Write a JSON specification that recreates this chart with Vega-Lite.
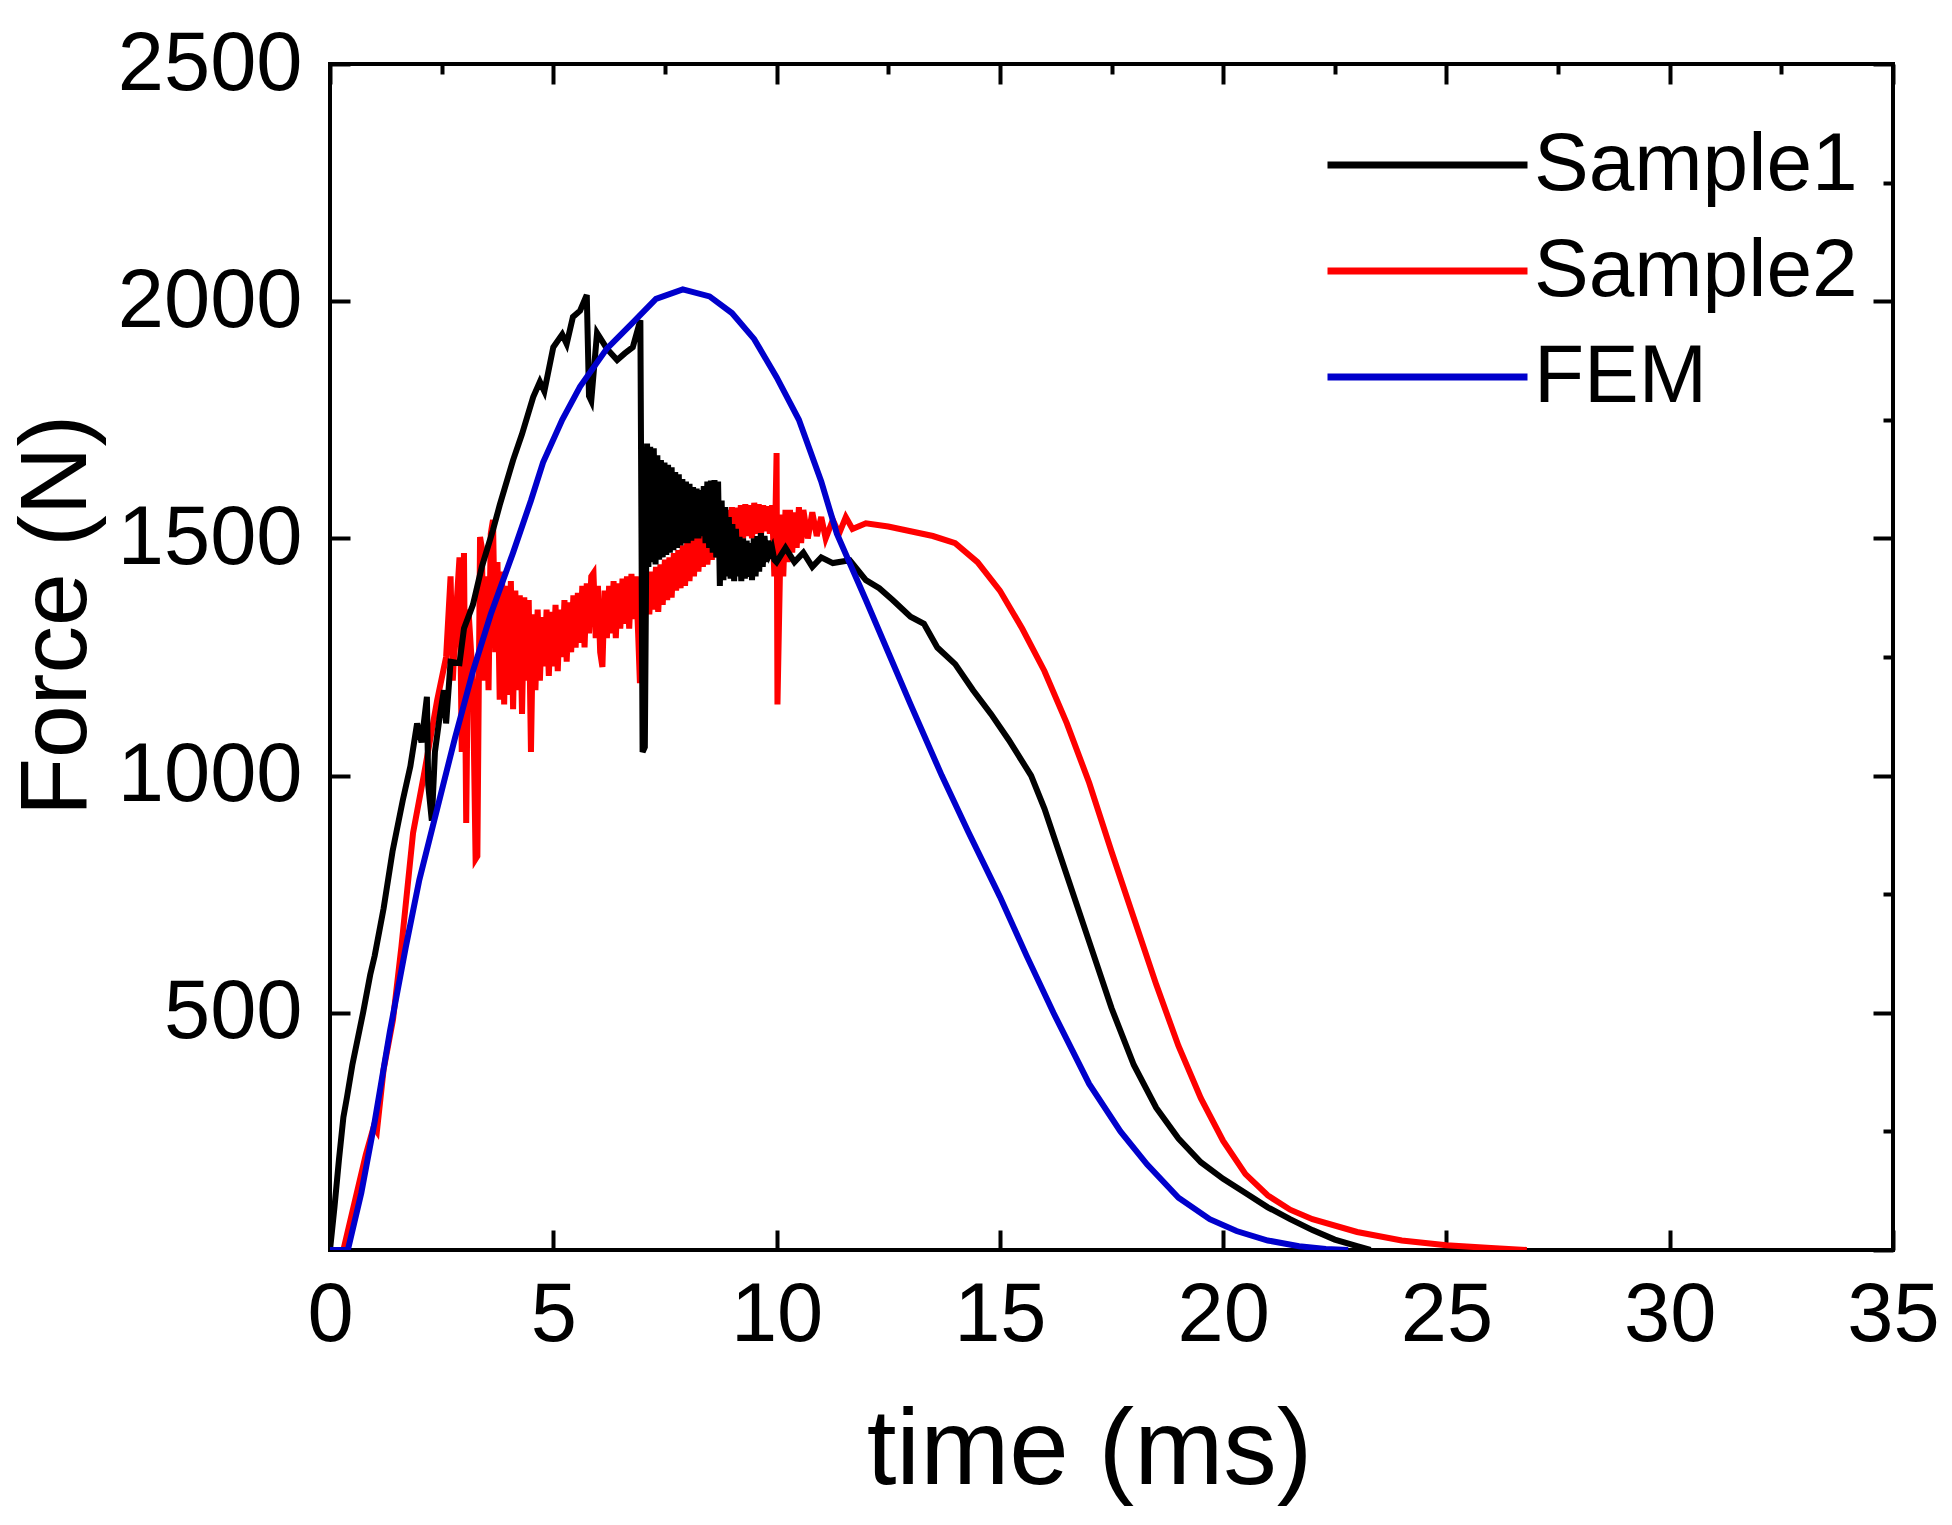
{
  "$schema": "https://vega.github.io/schema/vega-lite/v6.json",
  "width": 1563,
  "height": 1186,
  "autosize": {"type": "none"},
  "padding": {"left": 330, "top": 64, "right": 59, "bottom": 275},
  "background": "white",
  "config": {
    "view": {"stroke": "black", "strokeWidth": 4},
    "font": "Liberation Sans"
  },
  "datasets": {
    "curves": [
      {"t":0,"F":0,"s":"Sample2"},{"t":0.3,"F":0,"s":"Sample2"},{"t":0.5,"F":80,"s":"Sample2"},{"t":0.8,"F":200,"s":"Sample2"},{"t":0.98,"F":260,"s":"Sample2"},{"t":1.05,"F":250,"s":"Sample2"},{"t":1.2,"F":380,"s":"Sample2"},{"t":1.41,"F":485,"s":"Sample2"},{"t":1.6,"F":640,"s":"Sample2"},{"t":1.86,"F":879,"s":"Sample2"},{"t":2.1,"F":1000,"s":"Sample2"},{"t":2.4,"F":1159,"s":"Sample2"},{"t":2.6,"F":1250,"s":"Sample2"},{"t":2.7,"F":1420,"s":"Sample2"},{"t":2.75,"F":1200,"s":"Sample2"},{"t":2.84,"F":1370,"s":"Sample2"},{"t":2.9,"F":1460,"s":"Sample2"},{"t":2.95,"F":1050,"s":"Sample2"},{"t":3.0,"F":1469,"s":"Sample2"},{"t":3.05,"F":900,"s":"Sample2"},{"t":3.1,"F":1350,"s":"Sample2"},{"t":3.2,"F":1200,"s":"Sample2"},{"t":3.26,"F":824,"s":"Sample2"},{"t":3.3,"F":830,"s":"Sample2"},{"t":3.36,"F":1503,"s":"Sample2"},
      {"t":3.40,"F":1480,"s":"Sample2"},{"t":3.45,"F":1200,"s":"Sample2"},{"t":3.50,"F":1420,"s":"Sample2"},{"t":3.55,"F":1180,"s":"Sample2"},{"t":3.60,"F":1510,"s":"Sample2"},{"t":3.65,"F":1539,"s":"Sample2"},{"t":3.70,"F":1260,"s":"Sample2"},{"t":3.75,"F":1450,"s":"Sample2"},{"t":3.80,"F":1160,"s":"Sample2"},{"t":3.85,"F":1430,"s":"Sample2"},{"t":3.90,"F":1150,"s":"Sample2"},{"t":3.95,"F":1400,"s":"Sample2"},{"t":4.00,"F":1170,"s":"Sample2"},{"t":4.05,"F":1410,"s":"Sample2"},{"t":4.10,"F":1140,"s":"Sample2"},{"t":4.15,"F":1390,"s":"Sample2"},{"t":4.20,"F":1180,"s":"Sample2"},{"t":4.25,"F":1380,"s":"Sample2"},{"t":4.30,"F":1130,"s":"Sample2"},{"t":4.35,"F":1376,"s":"Sample2"},{"t":4.40,"F":1200,"s":"Sample2"},{"t":4.45,"F":1370,"s":"Sample2"},{"t":4.50,"F":1050,"s":"Sample2"},{"t":4.55,"F":1340,"s":"Sample2"},{"t":4.60,"F":1180,"s":"Sample2"},{"t":4.65,"F":1350,"s":"Sample2"},{"t":4.70,"F":1200,"s":"Sample2"},{"t":4.75,"F":1334,"s":"Sample2"},{"t":4.80,"F":1230,"s":"Sample2"},{"t":4.85,"F":1350,"s":"Sample2"},{"t":4.90,"F":1210,"s":"Sample2"},{"t":4.95,"F":1345,"s":"Sample2"},{"t":5.00,"F":1230,"s":"Sample2"},{"t":5.05,"F":1360,"s":"Sample2"},{"t":5.10,"F":1220,"s":"Sample2"},{"t":5.15,"F":1350,"s":"Sample2"},{"t":5.20,"F":1250,"s":"Sample2"},{"t":5.25,"F":1370,"s":"Sample2"},{"t":5.30,"F":1240,"s":"Sample2"},{"t":5.35,"F":1365,"s":"Sample2"},{"t":5.40,"F":1260,"s":"Sample2"},{"t":5.45,"F":1380,"s":"Sample2"},{"t":5.50,"F":1270,"s":"Sample2"},{"t":5.55,"F":1385,"s":"Sample2"},{"t":5.60,"F":1280,"s":"Sample2"},{"t":5.65,"F":1400,"s":"Sample2"},{"t":5.70,"F":1270,"s":"Sample2"},{"t":5.75,"F":1405,"s":"Sample2"},{"t":5.80,"F":1300,"s":"Sample2"},{"t":5.85,"F":1420,"s":"Sample2"},{"t":5.90,"F":1427,"s":"Sample2"},{"t":5.95,"F":1290,"s":"Sample2"},{"t":6.00,"F":1400,"s":"Sample2"},{"t":6.05,"F":1260,"s":"Sample2"},{"t":6.10,"F":1229,"s":"Sample2"},{"t":6.15,"F":1390,"s":"Sample2"},{"t":6.20,"F":1290,"s":"Sample2"},{"t":6.25,"F":1400,"s":"Sample2"},{"t":6.30,"F":1300,"s":"Sample2"},{"t":6.35,"F":1410,"s":"Sample2"},{"t":6.40,"F":1290,"s":"Sample2"},{"t":6.45,"F":1405,"s":"Sample2"},{"t":6.50,"F":1310,"s":"Sample2"},{"t":6.55,"F":1415,"s":"Sample2"},{"t":6.60,"F":1320,"s":"Sample2"},{"t":6.65,"F":1420,"s":"Sample2"},{"t":6.70,"F":1310,"s":"Sample2"},{"t":6.75,"F":1425,"s":"Sample2"},{"t":6.80,"F":1330,"s":"Sample2"},{"t":6.85,"F":1420,"s":"Sample2"},{"t":6.90,"F":1300,"s":"Sample2"},{"t":6.94,"F":1195,"s":"Sample2"},{"t":6.98,"F":1410,"s":"Sample2"},{"t":7.05,"F":1330,"s":"Sample2"},{"t":7.10,"F":1425,"s":"Sample2"},{"t":7.15,"F":1340,"s":"Sample2"},{"t":7.20,"F":1430,"s":"Sample2"},{"t":7.25,"F":1350,"s":"Sample2"},{"t":7.30,"F":1440,"s":"Sample2"},{"t":7.35,"F":1345,"s":"Sample2"},{"t":7.40,"F":1445,"s":"Sample2"},{"t":7.45,"F":1360,"s":"Sample2"},{"t":7.50,"F":1455,"s":"Sample2"},{"t":7.55,"F":1370,"s":"Sample2"},{"t":7.60,"F":1460,"s":"Sample2"},{"t":7.65,"F":1375,"s":"Sample2"},{"t":7.70,"F":1469,"s":"Sample2"},{"t":7.75,"F":1390,"s":"Sample2"},{"t":7.80,"F":1475,"s":"Sample2"},{"t":7.85,"F":1395,"s":"Sample2"},{"t":7.90,"F":1485,"s":"Sample2"},{"t":7.95,"F":1400,"s":"Sample2"},{"t":8.00,"F":1495,"s":"Sample2"},{"t":8.05,"F":1410,"s":"Sample2"},{"t":8.10,"F":1500,"s":"Sample2"},{"t":8.15,"F":1420,"s":"Sample2"},{"t":8.20,"F":1510,"s":"Sample2"},{"t":8.25,"F":1430,"s":"Sample2"},{"t":8.30,"F":1524,"s":"Sample2"},{"t":8.35,"F":1440,"s":"Sample2"},{"t":8.40,"F":1525,"s":"Sample2"},{"t":8.45,"F":1445,"s":"Sample2"},{"t":8.50,"F":1530,"s":"Sample2"},{"t":8.55,"F":1455,"s":"Sample2"},{"t":8.60,"F":1540,"s":"Sample2"},{"t":8.65,"F":1460,"s":"Sample2"},{"t":8.70,"F":1545,"s":"Sample2"},{"t":8.75,"F":1470,"s":"Sample2"},{"t":8.80,"F":1550,"s":"Sample2"},{"t":8.85,"F":1475,"s":"Sample2"},{"t":8.90,"F":1560,"s":"Sample2"},{"t":8.95,"F":1480,"s":"Sample2"},{"t":9.00,"F":1566,"s":"Sample2"},{"t":9.05,"F":1490,"s":"Sample2"},{"t":9.10,"F":1565,"s":"Sample2"},{"t":9.15,"F":1495,"s":"Sample2"},{"t":9.20,"F":1570,"s":"Sample2"},{"t":9.25,"F":1500,"s":"Sample2"},{"t":9.30,"F":1572,"s":"Sample2"},{"t":9.35,"F":1505,"s":"Sample2"},{"t":9.40,"F":1570,"s":"Sample2"},{"t":9.45,"F":1500,"s":"Sample2"},{"t":9.50,"F":1575,"s":"Sample2"},{"t":9.55,"F":1510,"s":"Sample2"},{"t":9.60,"F":1572,"s":"Sample2"},{"t":9.65,"F":1505,"s":"Sample2"},{"t":9.70,"F":1570,"s":"Sample2"},{"t":9.75,"F":1515,"s":"Sample2"},{"t":9.80,"F":1568,"s":"Sample2"},{"t":9.85,"F":1510,"s":"Sample2"},{"t":9.90,"F":1570,"s":"Sample2"},{"t":9.95,"F":1420,"s":"Sample2"},{"t":10.0,"F":1680,"s":"Sample2"},{"t":10.02,"F":1150,"s":"Sample2"},{"t":10.05,"F":1300,"s":"Sample2"},{"t":10.1,"F":1550,"s":"Sample2"},{"t":10.15,"F":1420,"s":"Sample2"},{"t":10.2,"F":1560,"s":"Sample2"},{"t":10.25,"F":1450,"s":"Sample2"},{"t":10.3,"F":1560,"s":"Sample2"},{"t":10.35,"F":1470,"s":"Sample2"},{"t":10.4,"F":1555,"s":"Sample2"},{"t":10.45,"F":1480,"s":"Sample2"},{"t":10.5,"F":1566,"s":"Sample2"},{"t":10.55,"F":1490,"s":"Sample2"},{"t":10.6,"F":1560,"s":"Sample2"},{"t":10.7,"F":1500,"s":"Sample2"},{"t":10.8,"F":1555,"s":"Sample2"},{"t":10.9,"F":1505,"s":"Sample2"},{"t":11.0,"F":1545,"s":"Sample2"},{"t":11.1,"F":1500,"s":"Sample2"},{"t":11.26,"F":1539,"s":"Sample2"},{"t":11.4,"F":1510,"s":"Sample2"},{"t":11.55,"F":1545,"s":"Sample2"},{"t":11.7,"F":1520,"s":"Sample2"},{"t":12.0,"F":1532,"s":"Sample2"},{"t":12.5,"F":1525,"s":"Sample2"},{"t":13.0,"F":1515,"s":"Sample2"},{"t":13.5,"F":1505,"s":"Sample2"},{"t":14.0,"F":1490,"s":"Sample2"},{"t":14.5,"F":1450,"s":"Sample2"},{"t":15.0,"F":1390,"s":"Sample2"},{"t":15.5,"F":1310,"s":"Sample2"},{"t":16.0,"F":1220,"s":"Sample2"},{"t":16.5,"F":1110,"s":"Sample2"},{"t":17.0,"F":985,"s":"Sample2"},{"t":17.5,"F":840,"s":"Sample2"},{"t":18.0,"F":700,"s":"Sample2"},{"t":18.5,"F":560,"s":"Sample2"},{"t":19.0,"F":430,"s":"Sample2"},{"t":19.5,"F":320,"s":"Sample2"},{"t":20.0,"F":230,"s":"Sample2"},{"t":20.5,"F":160,"s":"Sample2"},{"t":21.0,"F":115,"s":"Sample2"},{"t":21.5,"F":85,"s":"Sample2"},{"t":22.0,"F":65,"s":"Sample2"},{"t":23.0,"F":38,"s":"Sample2"},{"t":24.0,"F":20,"s":"Sample2"},{"t":25.0,"F":10,"s":"Sample2"},{"t":26.0,"F":4,"s":"Sample2"},{"t":26.8,"F":0,"s":"Sample2"},

      {"t":0,"F":0,"s":"Sample1"},{"t":0.1,"F":90,"s":"Sample1"},{"t":0.2,"F":190,"s":"Sample1"},{"t":0.3,"F":280,"s":"Sample1"},{"t":0.38,"F":322,"s":"Sample1"},{"t":0.5,"F":390,"s":"Sample1"},{"t":0.74,"F":500,"s":"Sample1"},{"t":0.9,"F":580,"s":"Sample1"},{"t":1.0,"F":620,"s":"Sample1"},{"t":1.2,"F":720,"s":"Sample1"},{"t":1.4,"F":840,"s":"Sample1"},{"t":1.63,"F":948,"s":"Sample1"},{"t":1.8,"F":1020,"s":"Sample1"},{"t":1.95,"F":1110,"s":"Sample1"},{"t":2.05,"F":1070,"s":"Sample1"},{"t":2.17,"F":1166,"s":"Sample1"},{"t":2.2,"F":980,"s":"Sample1"},{"t":2.28,"F":905,"s":"Sample1"},{"t":2.35,"F":1050,"s":"Sample1"},{"t":2.45,"F":1120,"s":"Sample1"},{"t":2.55,"F":1180,"s":"Sample1"},{"t":2.6,"F":1110,"s":"Sample1"},{"t":2.7,"F":1240,"s":"Sample1"},{"t":2.9,"F":1237,"s":"Sample1"},{"t":3.0,"F":1310,"s":"Sample1"},{"t":3.2,"F":1360,"s":"Sample1"},{"t":3.4,"F":1440,"s":"Sample1"},{"t":3.65,"F":1518,"s":"Sample1"},{"t":3.8,"F":1570,"s":"Sample1"},{"t":4.1,"F":1665,"s":"Sample1"},{"t":4.3,"F":1720,"s":"Sample1"},{"t":4.55,"F":1798,"s":"Sample1"},{"t":4.7,"F":1830,"s":"Sample1"},{"t":4.8,"F":1810,"s":"Sample1"},{"t":5.0,"F":1903,"s":"Sample1"},{"t":5.2,"F":1930,"s":"Sample1"},{"t":5.3,"F":1910,"s":"Sample1"},{"t":5.44,"F":1967,"s":"Sample1"},{"t":5.6,"F":1980,"s":"Sample1"},{"t":5.75,"F":2013,"s":"Sample1"},{"t":5.8,"F":1800,"s":"Sample1"},{"t":5.85,"F":1790,"s":"Sample1"},{"t":5.98,"F":1933,"s":"Sample1"},{"t":6.2,"F":1900,"s":"Sample1"},{"t":6.43,"F":1876,"s":"Sample1"},{"t":6.6,"F":1890,"s":"Sample1"},{"t":6.78,"F":1903,"s":"Sample1"},{"t":6.95,"F":1960,"s":"Sample1"},{"t":7.0,"F":1050,"s":"Sample1"},{"t":7.05,"F":1060,"s":"Sample1"},
      {"t":7.10,"F":1700,"s":"Sample1"},{"t":7.13,"F":1440,"s":"Sample1"},{"t":7.17,"F":1693,"s":"Sample1"},{"t":7.21,"F":1450,"s":"Sample1"},{"t":7.25,"F":1690,"s":"Sample1"},{"t":7.29,"F":1445,"s":"Sample1"},{"t":7.33,"F":1675,"s":"Sample1"},{"t":7.37,"F":1455,"s":"Sample1"},{"t":7.41,"F":1665,"s":"Sample1"},{"t":7.45,"F":1460,"s":"Sample1"},{"t":7.49,"F":1660,"s":"Sample1"},{"t":7.53,"F":1465,"s":"Sample1"},{"t":7.57,"F":1655,"s":"Sample1"},{"t":7.61,"F":1470,"s":"Sample1"},{"t":7.65,"F":1650,"s":"Sample1"},{"t":7.69,"F":1475,"s":"Sample1"},{"t":7.73,"F":1640,"s":"Sample1"},{"t":7.77,"F":1480,"s":"Sample1"},{"t":7.81,"F":1635,"s":"Sample1"},{"t":7.85,"F":1485,"s":"Sample1"},{"t":7.89,"F":1625,"s":"Sample1"},{"t":7.93,"F":1490,"s":"Sample1"},{"t":7.97,"F":1620,"s":"Sample1"},{"t":8.01,"F":1490,"s":"Sample1"},{"t":8.05,"F":1615,"s":"Sample1"},{"t":8.09,"F":1495,"s":"Sample1"},{"t":8.13,"F":1608,"s":"Sample1"},{"t":8.17,"F":1500,"s":"Sample1"},{"t":8.21,"F":1605,"s":"Sample1"},{"t":8.25,"F":1500,"s":"Sample1"},{"t":8.29,"F":1602,"s":"Sample1"},{"t":8.33,"F":1505,"s":"Sample1"},{"t":8.37,"F":1610,"s":"Sample1"},{"t":8.41,"F":1490,"s":"Sample1"},{"t":8.45,"F":1620,"s":"Sample1"},{"t":8.49,"F":1480,"s":"Sample1"},{"t":8.53,"F":1622,"s":"Sample1"},{"t":8.57,"F":1470,"s":"Sample1"},{"t":8.61,"F":1623,"s":"Sample1"},{"t":8.65,"F":1460,"s":"Sample1"},{"t":8.69,"F":1620,"s":"Sample1"},{"t":8.73,"F":1400,"s":"Sample1"},{"t":8.77,"F":1580,"s":"Sample1"},{"t":8.81,"F":1412,"s":"Sample1"},{"t":8.85,"F":1566,"s":"Sample1"},{"t":8.89,"F":1420,"s":"Sample1"},{"t":8.93,"F":1545,"s":"Sample1"},{"t":8.97,"F":1415,"s":"Sample1"},{"t":9.01,"F":1530,"s":"Sample1"},{"t":9.05,"F":1410,"s":"Sample1"},{"t":9.09,"F":1520,"s":"Sample1"},{"t":9.13,"F":1420,"s":"Sample1"},{"t":9.17,"F":1503,"s":"Sample1"},{"t":9.21,"F":1410,"s":"Sample1"},{"t":9.25,"F":1500,"s":"Sample1"},{"t":9.29,"F":1415,"s":"Sample1"},{"t":9.33,"F":1495,"s":"Sample1"},{"t":9.37,"F":1419,"s":"Sample1"},{"t":9.41,"F":1490,"s":"Sample1"},{"t":9.45,"F":1412,"s":"Sample1"},{"t":9.49,"F":1500,"s":"Sample1"},{"t":9.53,"F":1420,"s":"Sample1"},{"t":9.57,"F":1505,"s":"Sample1"},{"t":9.61,"F":1430,"s":"Sample1"},{"t":9.65,"F":1511,"s":"Sample1"},{"t":9.69,"F":1440,"s":"Sample1"},{"t":9.73,"F":1505,"s":"Sample1"},{"t":9.77,"F":1450,"s":"Sample1"},{"t":9.81,"F":1495,"s":"Sample1"},{"t":9.85,"F":1469,"s":"Sample1"},{"t":9.9,"F":1480,"s":"Sample1"},{"t":9.95,"F":1455,"s":"Sample1"},
      {"t":10.0,"F":1450,"s":"Sample1"},{"t":10.2,"F":1480,"s":"Sample1"},{"t":10.4,"F":1450,"s":"Sample1"},{"t":10.6,"F":1470,"s":"Sample1"},{"t":10.8,"F":1440,"s":"Sample1"},{"t":11.0,"F":1460,"s":"Sample1"},{"t":11.26,"F":1448,"s":"Sample1"},{"t":11.64,"F":1454,"s":"Sample1"},{"t":12.0,"F":1412,"s":"Sample1"},{"t":12.3,"F":1395,"s":"Sample1"},{"t":12.6,"F":1370,"s":"Sample1"},{"t":13.0,"F":1335,"s":"Sample1"},{"t":13.3,"F":1320,"s":"Sample1"},{"t":13.6,"F":1270,"s":"Sample1"},{"t":14.0,"F":1235,"s":"Sample1"},{"t":14.4,"F":1180,"s":"Sample1"},{"t":14.8,"F":1130,"s":"Sample1"},{"t":15.2,"F":1075,"s":"Sample1"},{"t":15.7,"F":1000,"s":"Sample1"},{"t":16.0,"F":930,"s":"Sample1"},{"t":16.5,"F":790,"s":"Sample1"},{"t":17.0,"F":650,"s":"Sample1"},{"t":17.5,"F":510,"s":"Sample1"},{"t":18.0,"F":390,"s":"Sample1"},{"t":18.5,"F":300,"s":"Sample1"},{"t":19.0,"F":235,"s":"Sample1"},{"t":19.5,"F":185,"s":"Sample1"},{"t":20.0,"F":150,"s":"Sample1"},{"t":20.5,"F":120,"s":"Sample1"},{"t":21.0,"F":90,"s":"Sample1"},{"t":21.5,"F":65,"s":"Sample1"},{"t":22.0,"F":42,"s":"Sample1"},{"t":22.5,"F":22,"s":"Sample1"},{"t":23.0,"F":8,"s":"Sample1"},{"t":23.3,"F":0,"s":"Sample1"},

      {"t":0,"F":0,"s":"FEM"},{"t":0.4,"F":0,"s":"FEM"},{"t":0.7,"F":120,"s":"FEM"},{"t":1.0,"F":270,"s":"FEM"},{"t":1.34,"F":460,"s":"FEM"},{"t":1.7,"F":640,"s":"FEM"},{"t":2.0,"F":780,"s":"FEM"},{"t":2.4,"F":930,"s":"FEM"},{"t":2.8,"F":1080,"s":"FEM"},{"t":3.2,"F":1220,"s":"FEM"},{"t":3.6,"F":1340,"s":"FEM"},{"t":4.1,"F":1470,"s":"FEM"},{"t":4.5,"F":1580,"s":"FEM"},{"t":4.77,"F":1660,"s":"FEM"},{"t":5.2,"F":1750,"s":"FEM"},{"t":5.6,"F":1820,"s":"FEM"},{"t":6.2,"F":1900,"s":"FEM"},{"t":6.78,"F":1955,"s":"FEM"},{"t":7.3,"F":2005,"s":"FEM"},{"t":7.9,"F":2025,"s":"FEM"},{"t":8.5,"F":2010,"s":"FEM"},{"t":9.0,"F":1975,"s":"FEM"},{"t":9.5,"F":1920,"s":"FEM"},{"t":10.0,"F":1840,"s":"FEM"},{"t":10.5,"F":1750,"s":"FEM"},{"t":11.0,"F":1620,"s":"FEM"},{"t":11.35,"F":1510,"s":"FEM"},{"t":12.0,"F":1370,"s":"FEM"},{"t":12.5,"F":1260,"s":"FEM"},{"t":13.0,"F":1150,"s":"FEM"},{"t":13.7,"F":1000,"s":"FEM"},{"t":14.3,"F":880,"s":"FEM"},{"t":15.0,"F":745,"s":"FEM"},{"t":15.6,"F":620,"s":"FEM"},{"t":16.2,"F":500,"s":"FEM"},{"t":17.0,"F":350,"s":"FEM"},{"t":17.7,"F":250,"s":"FEM"},{"t":18.3,"F":180,"s":"FEM"},{"t":19.0,"F":110,"s":"FEM"},{"t":19.7,"F":65,"s":"FEM"},{"t":20.3,"F":40,"s":"FEM"},{"t":21.0,"F":20,"s":"FEM"},{"t":21.7,"F":8,"s":"FEM"},{"t":22.3,"F":2,"s":"FEM"},{"t":22.8,"F":0,"s":"FEM"}
    ]
  },
  "data": {"name": "curves"},
  "resolve": {"axis": {"x": "independent", "y": "independent"}},
  "layer": [
    {
      "layer": [
        {
          "transform": [{"filter": "datum.s === 'Sample2'"}],
          "mark": {"type": "line", "strokeWidth": 6, "clip": true},
          "encoding": {
            "x": {"field": "t", "type": "quantitative", "scale": {"domain": [0, 35], "nice": false, "zero": false},
              "axis": {"title": "time (ms)", "values": [0,5,10,15,20,25,30,35], "format": "d", "tickSize": -20, "tickWidth": 4, "tickColor": "black",
                "domain": false, "grid": false, "labelFont": "Liberation Sans", "labelFontSize": 83, "labelColor": "black",
                "labelPadding": 44, "labelFlush": false, "labelOverlap": false, "labelBound": false, "labelLimit": 0,
                "titleFont": "Liberation Sans", "titleFontSize": 107, "titleFontWeight": "normal", "titleColor": "black",
                "titleX": 759, "titleY": 233, "titleBaseline": "alphabetic", "titleAlign": "center", "titleAnchor": null}},
            "y": {"field": "F", "type": "quantitative", "scale": {"domain": [0, 2500], "nice": false, "zero": false},
              "axis": {"title": "Force (N)", "values": [500,1000,1500,2000,2500], "format": "d", "tickSize": -20, "tickWidth": 4, "tickColor": "black",
                "domain": false, "grid": false, "labelFont": "Liberation Sans", "labelFontSize": 83, "labelColor": "black",
                "labelPadding": 48, "labelFlush": false, "labelOverlap": false, "labelBound": false, "labelLimit": 0,
                "titleFont": "Liberation Sans", "titleFontSize": 95, "titleFontWeight": "normal", "titleColor": "black",
                "titleX": -245, "titleY": 551, "titleAngle": -90, "titleBaseline": "alphabetic", "titleAlign": "center", "titleAnchor": null}},
            "color": {"field": "s", "type": "nominal",
              "scale": {"domain": ["Sample1", "Sample2", "FEM"], "range": ["#000000", "#ff0000", "#0000cc"]},
              "legend": {"orient": "none", "legendX": 994, "legendY": 58, "title": null, "symbolType": "stroke",
                "symbolSize": 40000, "symbolStrokeWidth": 7, "labelFont": "Liberation Sans", "labelFontSize": 82,
                "labelColor": "black", "labelOffset": 3, "padding": 0, "rowPadding": 20, "clipHeight": 86, "labelLimit": 0}}
          }
        },
        {
          "transform": [{"filter": "datum.s === 'Sample1'"}],
          "mark": {"type": "line", "strokeWidth": 6, "clip": true},
          "encoding": {
            "x": {"field": "t", "type": "quantitative"},
            "y": {"field": "F", "type": "quantitative"},
            "color": {"field": "s", "type": "nominal"}
          }
        },
        {
          "transform": [{"filter": "datum.s === 'FEM'"}],
          "mark": {"type": "line", "strokeWidth": 6, "clip": true},
          "encoding": {
            "x": {"field": "t", "type": "quantitative"},
            "y": {"field": "F", "type": "quantitative"},
            "color": {"field": "s", "type": "nominal"}
          }
        }
      ]
    },
    {
      "mark": {"type": "line", "opacity": 0},
      "encoding": {
        "x": {"field": "t", "type": "quantitative",
          "axis": {"orient": "top", "title": null, "values": [0,5,10,15,20,25,30,35], "labels": false, "tickSize": -20, "tickWidth": 4, "tickColor": "black", "domain": false, "grid": false}},
        "y": {"field": "F", "type": "quantitative",
          "axis": {"orient": "right", "title": null, "values": [0,500,1000,1500,2000,2500], "labels": false, "tickSize": -20, "tickWidth": 4, "tickColor": "black", "domain": false, "grid": false}}
      }
    },
    {
      "mark": {"type": "line", "opacity": 0},
      "encoding": {
        "x": {"field": "t", "type": "quantitative",
          "axis": {"orient": "top", "title": null, "values": [2.5,7.5,12.5,17.5,22.5,27.5,32.5], "labels": false, "tickSize": -10, "tickWidth": 4, "tickColor": "black", "domain": false, "grid": false}},
        "y": {"field": "F", "type": "quantitative",
          "axis": {"orient": "right", "title": null, "values": [250,750,1250,1750,2250], "labels": false, "tickSize": -10, "tickWidth": 4, "tickColor": "black", "domain": false, "grid": false}}
      }
    }
  ]
}
